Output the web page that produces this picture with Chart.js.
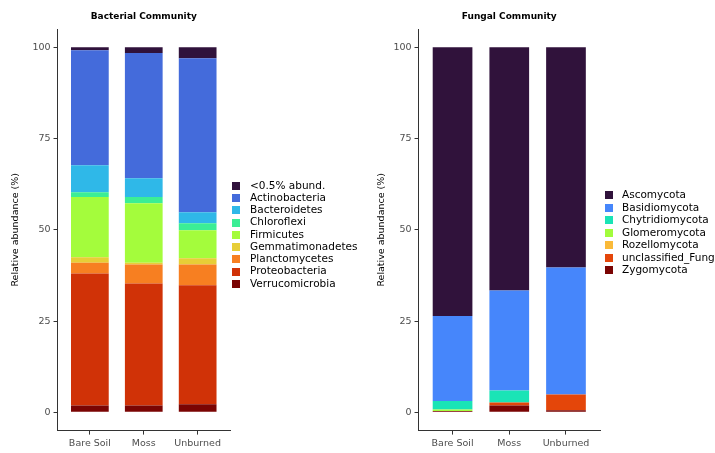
<!DOCTYPE html>
<html>
<head>
<meta charset="utf-8">
<title>Bacterial and Fungal Community</title>
<script src="https://cdn.jsdelivr.net/npm/chart.js@4.4.1/dist/chart.umd.min.js"></script>
<style>
  body { margin: 0; background: #fff; }
  #wrap { position: relative; width: 715px; height: 453px; }
  #bacteriaChart { position: absolute; left: 0; top: 0; }
  #fungiChart { position: absolute; left: 376px; top: 0; }
</style>
</head>
<body>
<div id="wrap">
  <canvas id="bacteriaChart" width="376" height="453"></canvas>
  <canvas id="fungiChart" width="339" height="453"></canvas>
</div>
<script>
// sites on the x axis and y tick values
var sites = ['Bare Soil', 'Moss', 'Unburned'];
var yTicks = [0, 25, 50, 75, 100];

// Bacterial community, relative abundance (%), bottom of the stack first
var bacTaxa = ['Verrucomicrobia', 'Proteobacteria', 'Planctomycetes', 'Gemmatimonadetes',
               'Firmicutes', 'Chloroflexi', 'Bacteroidetes', 'Actinobacteria', '<0.5% abund.'];
var bacVerruco = [1.9, 1.9, 2.2];
var bacProteo = [36.1, 33.4, 32.6];
var bacPlancto = [3.0, 5.2, 5.7];
var bacGemma = [1.5, 0.5, 1.7];
var bacFirmi = [16.5, 16.3, 7.7];
var bacChloro = [1.3, 1.7, 1.9];
var bacBactero = [7.4, 5.1, 3.0];
var bacActino = [31.5, 34.3, 42.2];
var bacRare = [0.8, 1.6, 3.0];
var bacColors = ['#7A0403', '#D03207', '#F77F21', '#E7CE37', '#A4FC3C',
                 '#3BEE95', '#2FB8E8', '#446BDB', '#30123B'];

// Fungal community, relative abundance (%), bottom of the stack first
var funTaxa = ['Zygomycota', 'unclassified_Fungi', 'Rozellomycota', 'Glomeromycota',
               'Chytridiomycota', 'Basidiomycota', 'Ascomycota'];
var funZygo = [0.4, 1.9, 0.6];
var funUnclass = [0, 0.8, 4.3];
var funRozello = [0, 0, 0];
var funGlomero = [0.4, 0, 0];
var funChytrid = [2.3, 3.3, 0];
var funBasidio = [23.3, 27.4, 34.8];
var funAsco = [73.6, 66.6, 60.3];
var funColors = ['#7A0403', '#E4460A', '#FABA39', '#A2FC3C', '#1AE4B6', '#4686FB', '#30123B'];

Chart.defaults.font.family = '"DejaVu Sans", sans-serif';
Chart.defaults.color = '#000';

// panel title centred over the plot area (like ggplot)
var panelTitle = {
    id: 'panelTitle',
    afterDraw: function(chart, args, opts) {
        var ctx = chart.ctx;
        var area = chart.chartArea;
        ctx.save();
        ctx.font = 'bold 9px "DejaVu Sans", sans-serif';
        ctx.fillStyle = '#000';
        ctx.textAlign = 'center';
        ctx.textBaseline = 'middle';
        ctx.fillText(opts.text, (area.left + area.right) / 2, 17);
        ctx.restore();
    }
};

// legend to the right of the panel, top of the stack listed first
var sideLegend = {
    id: 'sideLegend',
    afterDraw: function(chart, args, opts) {
        var ctx = chart.ctx;
        var area = chart.chartArea;
        var sets = chart.data.datasets.slice().reverse();
        var rowH = opts.rowHeight;
        var top = (area.top + area.bottom) / 2 + opts.dy - sets.length * rowH / 2;
        var x = area.right + opts.gap;
        ctx.save();
        ctx.font = '10.5px "DejaVu Sans", sans-serif';
        ctx.textBaseline = 'middle';
        ctx.textAlign = 'left';
        sets.forEach(function(ds, i) {
            var yc = top + i * rowH + rowH / 2;
            ctx.fillStyle = ds.backgroundColor;
            ctx.fillRect(x, Math.round(yc - 4), 8, 8);
            ctx.fillStyle = '#000';
            ctx.fillText(ds.label, x + opts.textGap, yc);
        });
        ctx.restore();
    }
};

function makeChart(id, title, taxa, series, colors, pad, titlePad, legendOpts) {
    var datasets = taxa.map(function(name, k) {
        return {
            label: name,
            data: series[k].map(function(v, i) { return {x: i + 1, y: v}; }),
            backgroundColor: colors[k],
            borderWidth: 0,
            barPercentage: 0.7,
            categoryPercentage: 1.0
        };
    });
    return new Chart(document.getElementById(id).getContext('2d'), {
        type: 'bar',
        data: { datasets: datasets },
        plugins: [panelTitle, sideLegend],
        options: {
            responsive: false,
            animation: false,
            layout: { padding: pad },
            scales: {
                x: {
                    type: 'linear',
                    stacked: true,
                    min: 0.4,
                    max: 3.6,
                    offset: false,
                    afterBuildTicks: function(axis) {
                        axis.ticks = sites.map(function(s, i) { return {value: i + 1}; });
                    },
                    ticks: {
                        color: '#4D4D4D',
                        font: { size: 9.5 },
                        padding: 3,
                        maxRotation: 0,
                        callback: function(value) { return sites[value - 1]; }
                    },
                    grid: { drawOnChartArea: false, offset: false, tickLength: 4, color: '#333' },
                    border: { display: true, color: '#333', width: 1 }
                },
                y: {
                    stacked: true,
                    min: -5,
                    max: 105,
                    afterBuildTicks: function(axis) {
                        axis.ticks = yTicks.map(function(v) { return {value: v}; });
                    },
                    ticks: {
                        color: '#4D4D4D',
                        font: { size: 9.5 },
                        padding: 3
                    },
                    grid: { drawOnChartArea: false, tickLength: 4, color: '#333' },
                    border: { display: true, color: '#333', width: 1 },
                    title: {
                        display: true,
                        text: 'Relative abundance (%)',
                        color: '#000',
                        font: { size: 9.5 },
                        padding: { top: 0, bottom: titlePad }
                    }
                }
            },
            plugins: {
                panelTitle: { text: title },
                sideLegend: legendOpts,
                legend: { display: false },
                tooltip: { enabled: false }
            }
        }
    });
}

var bacteriaChart = makeChart('bacteriaChart', 'Bacterial Community', bacTaxa,
    [bacVerruco, bacProteo, bacPlancto, bacGemma, bacFirmi, bacChloro, bacBactero, bacActino, bacRare],
    bacColors, { top: 29, bottom: 1, left: 10, right: 146 }, 8,
    { rowHeight: 12.25, dy: 5, gap: 2, textGap: 18 });

var fungiChart = makeChart('fungiChart', 'Fungal Community', funTaxa,
    [funZygo, funUnclass, funRozello, funGlomero, funChytrid, funBasidio, funAsco],
    funColors, { top: 29, bottom: 1, left: 0, right: 115 }, 3,
    { rowHeight: 12.5, dy: 3, gap: 5, textGap: 17 });
</script>
</body>
</html>
